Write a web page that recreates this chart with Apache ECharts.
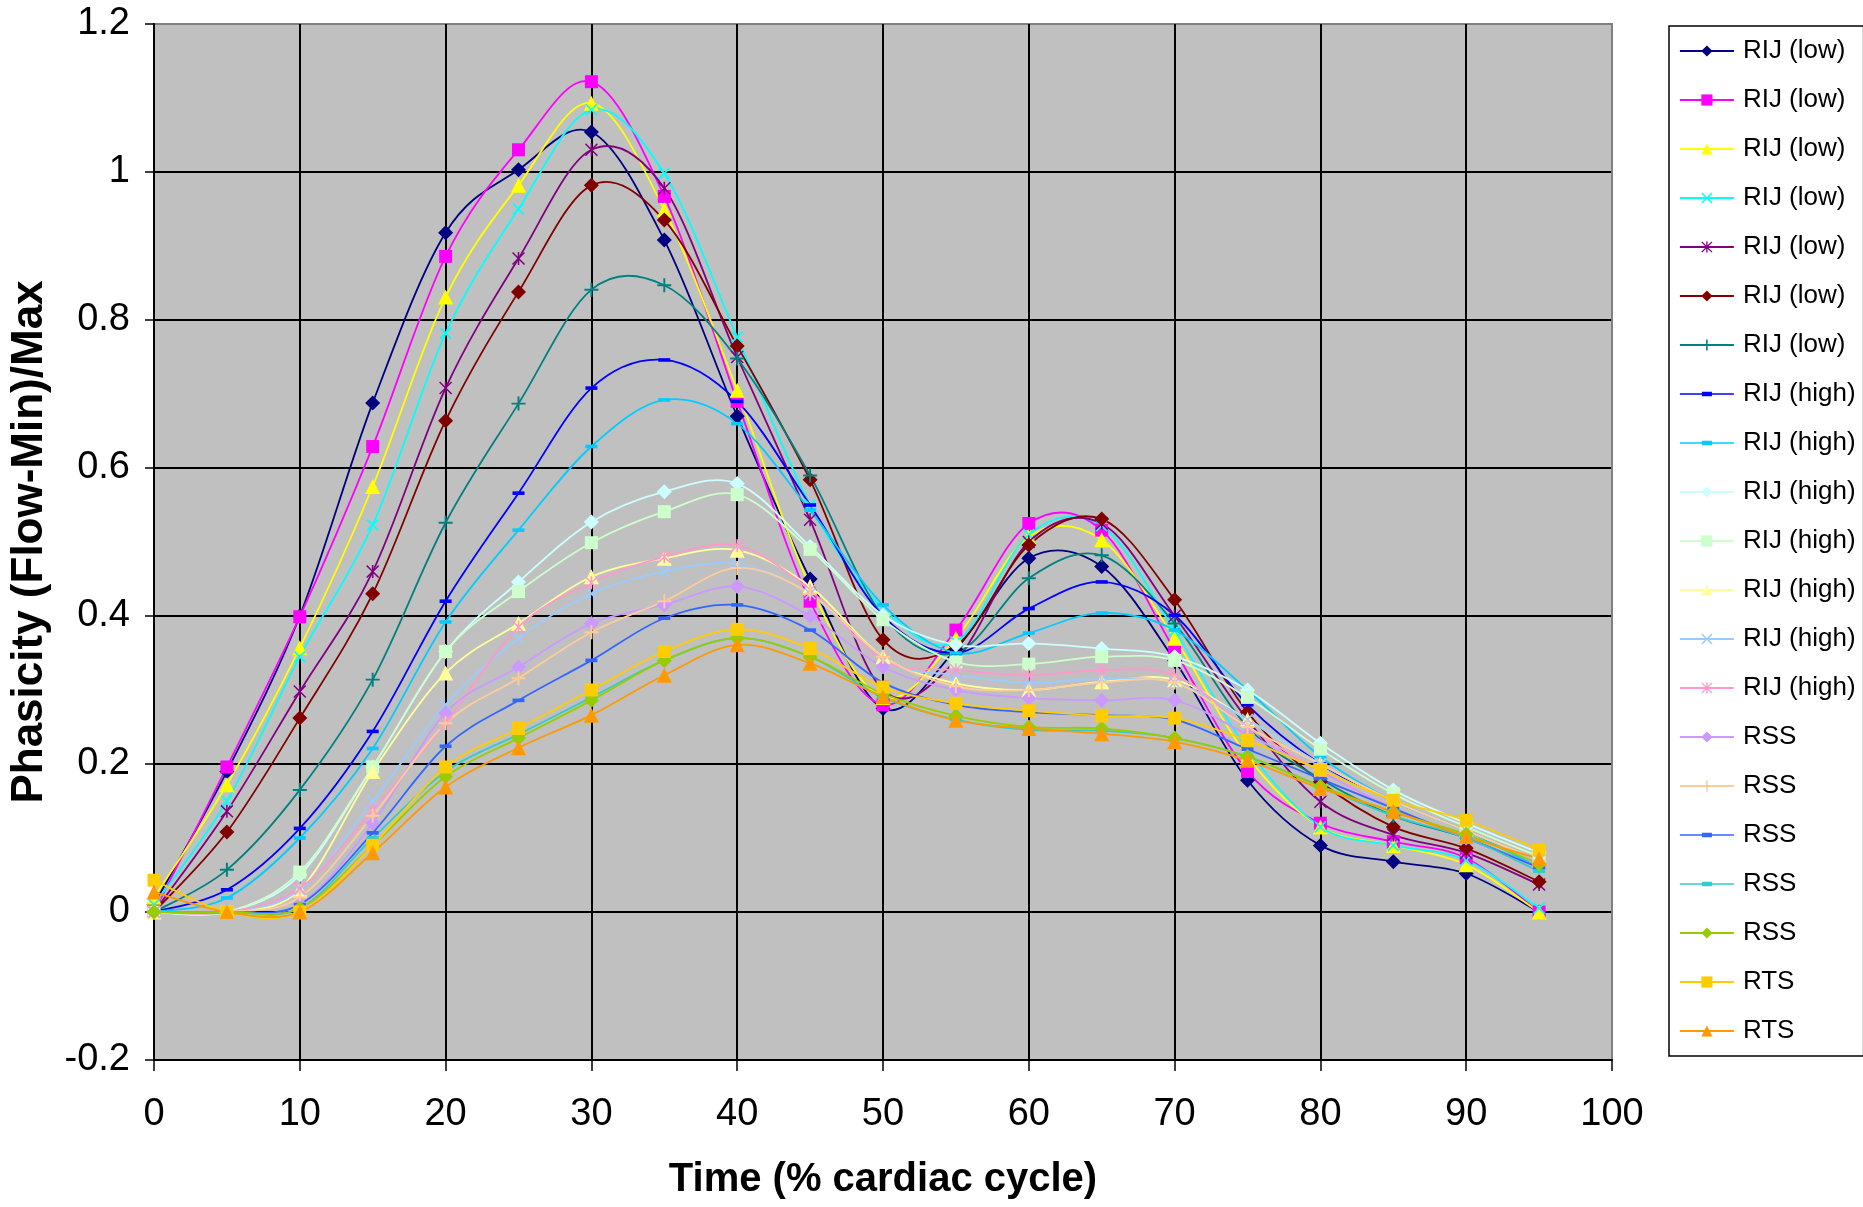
<!DOCTYPE html>
<html>
<head>
<meta charset="utf-8">
<script src="https://cdn.jsdelivr.net/npm/echarts@6/dist/echarts.min.js"></script>
<style>
html,body{margin:0;padding:0;background:#fff;}
#chart{width:1863px;height:1207px;}
</style>
</head>
<body>
<div id="chart"></div>
<script>
// ---- data ----
const timePct = [0,5,10,15,20,25,30,35,40,45,50,55,60,65,70,75,80,85,90,95];

const rijLow1 = [0.01,0.19,0.40,0.688,0.918,1.003,1.054,0.908,0.670,0.45,0.275,0.355,0.478,0.467,0.34,0.178,0.09,0.068,0.052,0.0];
const rijLow2 = [0.0,0.196,0.399,0.629,0.886,1.03,1.122,0.967,0.69,0.42,0.28,0.381,0.525,0.516,0.354,0.19,0.12,0.095,0.073,0.0];
const rijLow3 = [0.02,0.172,0.357,0.575,0.831,0.982,1.093,0.949,0.705,0.44,0.29,0.37,0.507,0.503,0.37,0.21,0.115,0.09,0.064,0.0];
const rijLow4 = [0.01,0.15,0.345,0.523,0.782,0.95,1.084,0.998,0.777,0.55,0.41,0.365,0.51,0.522,0.38,0.22,0.115,0.09,0.07,0.005];
const rijLow5 = [0.0,0.136,0.298,0.46,0.708,0.883,1.03,0.978,0.75,0.53,0.30,0.34,0.50,0.525,0.40,0.26,0.149,0.104,0.08,0.037];
const rijLow6 = [0.0,0.108,0.262,0.43,0.664,0.838,0.982,0.935,0.765,0.584,0.368,0.36,0.496,0.531,0.422,0.27,0.176,0.115,0.086,0.041];
const rijLow7 = [0.0,0.057,0.165,0.314,0.526,0.687,0.841,0.847,0.748,0.59,0.40,0.35,0.451,0.482,0.39,0.25,0.18,0.13,0.10,0.06];
const rijHigh1 = [0.0,0.03,0.113,0.244,0.42,0.566,0.708,0.746,0.69,0.55,0.40,0.35,0.41,0.446,0.401,0.28,0.20,0.15,0.11,0.07];
const rijHigh2 = [0.0,0.019,0.10,0.221,0.392,0.516,0.629,0.692,0.66,0.543,0.415,0.35,0.377,0.404,0.381,0.30,0.21,0.15,0.11,0.06];
const rijHigh3 = [0.0,0.0,0.05,0.196,0.352,0.446,0.527,0.568,0.579,0.494,0.401,0.361,0.363,0.356,0.345,0.30,0.228,0.165,0.12,0.08];
const rijHigh4 = [0.0,0.0,0.054,0.196,0.352,0.433,0.499,0.541,0.564,0.49,0.395,0.338,0.335,0.345,0.34,0.29,0.22,0.16,0.115,0.075];
const rijHigh5 = [0.0,0.0,0.03,0.19,0.323,0.39,0.453,0.478,0.489,0.44,0.345,0.309,0.30,0.311,0.314,0.26,0.20,0.15,0.11,0.07];
const rijHigh6 = [0.0,0.0,0.03,0.15,0.28,0.37,0.43,0.46,0.47,0.43,0.34,0.32,0.31,0.315,0.31,0.26,0.20,0.15,0.11,0.07];
const rijHigh7 = [0.0,0.0,0.032,0.138,0.255,0.385,0.445,0.48,0.495,0.435,0.34,0.327,0.32,0.327,0.32,0.25,0.19,0.14,0.10,0.06];
const rss1 = [0.0,0.0,0.01,0.12,0.269,0.331,0.39,0.415,0.44,0.40,0.331,0.30,0.289,0.286,0.286,0.24,0.19,0.14,0.10,0.06];
const rss2 = [0.0,0.0,0.02,0.13,0.255,0.316,0.378,0.42,0.465,0.43,0.345,0.305,0.30,0.31,0.31,0.25,0.20,0.15,0.11,0.07];
const rss3 = [0.0,0.0,0.01,0.107,0.224,0.286,0.34,0.397,0.415,0.381,0.31,0.28,0.27,0.266,0.26,0.22,0.18,0.14,0.10,0.06];
const rss4 = [0.0,0.0,0.005,0.10,0.19,0.24,0.29,0.34,0.37,0.345,0.29,0.26,0.246,0.245,0.235,0.21,0.17,0.13,0.10,0.055];
const rss5 = [0.0,0.0,0.005,0.09,0.183,0.235,0.286,0.34,0.37,0.345,0.295,0.265,0.25,0.248,0.235,0.21,0.17,0.135,0.105,0.065];
const rts1 = [0.043,0.0,0.0,0.09,0.196,0.248,0.30,0.352,0.382,0.356,0.304,0.282,0.272,0.265,0.262,0.232,0.192,0.151,0.124,0.084];
const rts2 = [0.027,0.0,0.0,0.08,0.169,0.222,0.266,0.32,0.361,0.336,0.291,0.259,0.248,0.241,0.23,0.205,0.167,0.136,0.102,0.072];

const seriesNames = ['RIJ (low)','RIJ (low)','RIJ (low)','RIJ (low)','RIJ (low)','RIJ (low)','RIJ (low)',
  'RIJ (high)','RIJ (high)','RIJ (high)','RIJ (high)','RIJ (high)','RIJ (high)','RIJ (high)',
  'RSS','RSS','RSS','RSS','RSS','RTS','RTS'];
const seriesValues = [rijLow1,rijLow2,rijLow3,rijLow4,rijLow5,rijLow6,rijLow7,
  rijHigh1,rijHigh2,rijHigh3,rijHigh4,rijHigh5,rijHigh6,rijHigh7,
  rss1,rss2,rss3,rss4,rss5,rts1,rts2];
const yTicks = [-0.2,0,0.2,0.4,0.6,0.8,1,1.2];
const xTicks = [0,10,20,30,40,50,60,70,80,90,100];

// ---- styles ----
const colors = ['#000080','#FF00FF','#FFFF00','#00FFFF','#800080','#800000','#008080',
  '#0000FF','#00CCFF','#CCFFFF','#CCFFCC','#FFFF99','#99CCFF','#FF99CC',
  '#CC99FF','#FFCC99','#3366FF','#33CCCC','#99CC00','#FFCC00','#FF9900'];
const SYM = {
  diamond: {s:'diamond', size:15},
  square: {s:'rect', size:13},
  triangle: {s:'triangle', size:15},
  x: {s:'path://M1,0L5,4L9,0L10,1L6,5L10,9L9,10L5,6L1,10L0,9L4,5L0,1Z', size:12},
  star: {s:'path://M4.4,0H5.6V10H4.4Z M0.8,0L5,4.2L9.2,0L10,0.8L5.8,5L10,9.2L9.2,10L5,5.8L0.8,10L0,9.2L4.2,5L0,0.8Z', size:13},
  plus: {s:'path://M4.3,0H5.7V4.3H10V5.7H5.7V10H4.3V5.7H0V4.3H4.3Z', size:14},
  dash: {s:'path://M0,0H10V3H0Z', size:12}
};
const markers = ['diamond','square','triangle','x','star','diamond','plus',
  'dash','dash','diamond','square','triangle','x','star',
  'diamond','plus','dash','dash','diamond','square','triangle'];
const LINE_W = 1.8;
// legend icon for the dash marker: line + short thick dash (tiny corner specks fix the 54x14 box)
const DASH_ICON = 'path://M0,0H0.01V0.01H0Z M53.99,13.99H54V14H53.99Z M0,6.2H54V7.8H0Z M22,4.8H32V9.2H22Z';

// unique legend keys (zero-width suffix) so repeated names each get an entry
const keyOf = i => seriesNames[i] + '\u200b'.repeat(i + 1);

// smooth curve (Catmull-Rom, like spreadsheet "smoothed line") drawn through the axis scales
function curveSeries(i) {
  const color = colors[i];
  return {
    type: 'custom', name: 'curve' + i, silent: true, clip: true,
    data: timePct.map((t, k) => [t, seriesValues[i][k]]),
    encode: {x: 0, y: 1},
    renderItem: function (params, api) {
      if (params.dataIndexInside !== 0) return null;
      const n = params.dataInsideLength;
      const p = [];
      for (let k = 0; k < n; k++) p.push(api.coord([api.value(0, k), api.value(1, k)]));
      let d = 'M' + p[0][0] + ' ' + p[0][1];
      for (let k = 0; k < n - 1; k++) {
        const p0 = p[k - 1] || p[k], p1 = p[k], p2 = p[k + 1], p3 = p[k + 2] || p[k + 1];
        const c1x = p1[0] + (p2[0] - p0[0]) / 6, c1y = p1[1] + (p2[1] - p0[1]) / 6;
        const c2x = p2[0] - (p3[0] - p1[0]) / 6, c2y = p2[1] - (p3[1] - p1[1]) / 6;
        d += ' C' + c1x + ' ' + c1y + ' ' + c2x + ' ' + c2y + ' ' + p2[0] + ' ' + p2[1];
      }
      return {type: 'path', shape: {pathData: d}, style: {fill: 'none', stroke: color, lineWidth: LINE_W}};
    },
    animation: false
  };
}

function markerSeries(i) {
  return {
    name: keyOf(i),
    type: 'line',
    data: timePct.map((t, k) => [t, seriesValues[i][k]]),
    symbol: SYM[markers[i]].s,
    symbolSize: SYM[markers[i]].size,
    symbolKeepAspect: true,
    showSymbol: true,
    showAllSymbol: true,
    lineStyle: {color: colors[i], width: 0, opacity: 0},
    itemStyle: {color: colors[i], borderWidth: 0},
    emphasis: {disabled: true},
    animation: false
  };
}

const series = [];
seriesValues.forEach((v, i) => { series.push(curveSeries(i)); series.push(markerSeries(i)); });

const legendItems = seriesValues.map((v, i) => {
  const item = {
    name: keyOf(i),
    lineStyle: {color: colors[i], width: LINE_W, opacity: 1, type: 'solid'},
    itemStyle: {color: colors[i], opacity: 1}
  };
  if (markers[i] === 'dash') item.icon = DASH_ICON;
  return item;
});

const hGridColors = yTicks.map((v, i) => i === yTicks.length - 1 ? '#808080' : '#000000');
const vGridColors = xTicks.map((v, i) => i === xTicks.length - 1 ? '#808080' : '#000000');

const FONT = "'Liberation Sans', Arial, sans-serif";
const chart = echarts.init(document.getElementById('chart'), null, {renderer: 'canvas'});
chart.setOption({
  animation: false,
  backgroundColor: '#ffffff',
  textStyle: {fontFamily: FONT},
  grid: {
    left: 154, right: 251, top: 24, bottom: 147,
    show: true, backgroundColor: '#C0C0C0', borderColor: '#808080', borderWidth: 2
  },
  legend: {
    orient: 'vertical',
    left: 1669, top: 26,
    padding: [10, 8, 10, 10],
    backgroundColor: '#ffffff',
    borderColor: '#000000', borderWidth: 1.5,
    itemWidth: 54, itemHeight: 14, itemGap: 19,
    textStyle: {fontSize: 26, lineHeight: 30, color: '#000', fontFamily: FONT, padding: [0,0,0,4]},
    formatter: name => name.replace(/\u200b/g, ''),
    selectedMode: false,
    data: legendItems
  },
  xAxis: {
    type: 'value', min: 0, max: 100, interval: 10,
    name: 'Time (% cardiac cycle)', nameLocation: 'middle', nameGap: 100,
    nameTextStyle: {fontSize: 40, fontWeight: 'bold', color: '#000', fontFamily: FONT},
    axisLine: {show: true, onZero: false, lineStyle: {color: '#000', width: 2}},
    axisTick: {show: true, inside: false, length: 11, lineStyle: {color: '#000', width: 1.5}},
    axisLabel: {fontSize: 38, color: '#000', margin: 36, fontFamily: FONT},
    splitLine: {show: true, lineStyle: {color: vGridColors, width: 2}}
  },
  yAxis: {
    type: 'value', min: -0.2, max: 1.2, interval: 0.2,
    name: 'Phasicity (Flow-Min)/Max', nameLocation: 'middle', nameGap: 102,
    nameTextStyle: {fontSize: 44, fontWeight: 'bold', color: '#000', fontFamily: FONT},
    axisLine: {show: true, onZero: false, lineStyle: {color: '#000', width: 2}},
    axisTick: {show: true, inside: false, length: 9, lineStyle: {color: '#000', width: 1.5}},
    axisLabel: {fontSize: 38, color: '#000', margin: 24, fontFamily: FONT,
      formatter: v => String(Math.round(v * 10) / 10)},
    splitLine: {show: true, lineStyle: {color: hGridColors, width: 2}}
  },
  series: series
});
</script>
</body>
</html>
